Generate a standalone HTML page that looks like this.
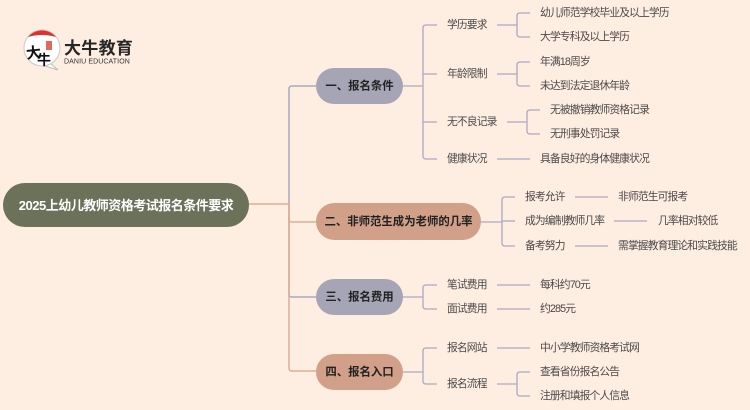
<!DOCTYPE html>
<html><head><meta charset="utf-8">
<style>
html,body{margin:0;padding:0;background:#feede1;}
svg{display:block;}
text{font-family:"Liberation Sans","Noto Sans CJK SC",sans-serif;}
.t{font-size:10.8px;fill:#4a4a4a;letter-spacing:-0.9px;dominant-baseline:central;}
.n{font-size:11.4px;font-weight:bold;fill:#222;dominant-baseline:central;}
</style></head>
<body>
<svg width="750" height="410" viewBox="0 0 750 410" xmlns="http://www.w3.org/2000/svg">
<rect width="750" height="410" fill="#feede1"/>

<!-- logo -->
<g>
  <path d="M50,63 L58,70 L45,66 Z" fill="#fff" stroke="#bbb" stroke-width="1"/>
  <circle cx="42" cy="48" r="18" fill="#fff" stroke="#c8c8c8" stroke-width="1"/>
  <path d="M28,37 A18,18 0 0 1 56,37 Q42,33 28,37 Z" fill="#e0312c"/>
  <rect x="46" y="41" width="6" height="9" fill="#d9442f" opacity="0.8"/>
  <text x="26" y="58" font-family="Liberation Serif,'Noto Serif CJK SC',serif" font-size="15" font-weight="bold" fill="#111" transform="rotate(-6 34 52)">大</text>
  <text x="37" y="65" font-family="Liberation Serif,'Noto Serif CJK SC',serif" font-size="14" font-weight="bold" fill="#111">牛</text>
  <text x="64" y="54" style="font-size:17px;font-weight:bold;fill:#262626;letter-spacing:0.3px">大牛教育</text>
  <text x="64" y="63.5" style="font-size:7px;fill:#333;letter-spacing:0.1px">DANIU EDUCATION</text>
</g>

<!-- trunk -->
<g fill="none" stroke-width="1.5">
  <path d="M289,204 V89 Q289,86 292,86 H316" stroke="#aaa9c2"/>
  <path d="M289,204 V294 Q289,297 292,297 H316" stroke="#aaa9c2"/>
  <path d="M249,204 H289" stroke="#dcae94"/>
  <path d="M289,204 V219 Q289,222 292,222 H316" stroke="#dcae94"/>
  <path d="M289,204 V368 Q289,371 292,371 H316" stroke="#dcae94"/>
</g>

<!-- child connectors -->
<g fill="none" stroke="#aaa9c2" stroke-width="1.3">
  <path d="M403,86 H423"/>
  <path d="M437,25 H426 Q423,25 423,28 V156 Q423,159 426,159 H437"/>
  <path d="M423,74 H437 M423,122 H437"/>
  <path d="M497,25 H517 M530,13 H520 Q517,13 517,16 V34 Q517,37 520,37 H530"/>
  <path d="M497,74 H517 M530,62 H520 Q517,62 517,65 V83 Q517,86 520,86 H530"/>
  <path d="M507,122 H527 M540,110 H530 Q527,110 527,113 V131 Q527,134 530,134 H540"/>
  <path d="M497,159 H530"/>
  <path d="M481,222 H502"/>
  <path d="M515,197 H505 Q502,197 502,200 V243 Q502,246 505,246 H515"/>
  <path d="M502,221 H515"/>
  <path d="M575,197 H608 M614,221 H647 M575,246 H608"/>
  <path d="M403,297 H423"/>
  <path d="M437,285 H426 Q423,285 423,288 V306 Q423,309 426,309 H437"/>
  <path d="M497,285 H530 M497,309 H530"/>
  <path d="M403,372 H423"/>
  <path d="M437,348 H426 Q423,348 423,351 V381 Q423,384 426,384 H437"/>
  <path d="M497,348 H530"/>
  <path d="M497,384 H517 M530,372 H520 Q517,372 517,375 V393 Q517,396 520,396 H530"/>
</g>

<!-- root -->
<rect x="3" y="183" width="246" height="44" rx="22" fill="#6b7259"/>
<text x="126" y="205.5" text-anchor="middle" style="font-size:13px;font-weight:bold;fill:#fff;letter-spacing:-0.5px;dominant-baseline:central">2025上幼儿教师资格考试报名条件要求</text>

<!-- main nodes -->
<rect x="316" y="68" width="87" height="36" rx="18" fill="#a6a5b5"/>
<text class="n" x="359.5" y="86.5" text-anchor="middle">一、报名条件</text>
<rect x="316" y="203" width="165" height="37" rx="18.5" fill="#d2a088"/>
<text class="n" x="398.5" y="222" text-anchor="middle">二、非师范生成为老师的几率</text>
<rect x="316" y="279" width="87" height="36" rx="18" fill="#a6a5b5"/>
<text class="n" x="359.5" y="297.5" text-anchor="middle">三、报名费用</text>
<rect x="316" y="354" width="87" height="36" rx="18" fill="#d2a088"/>
<text class="n" x="359.5" y="372.5" text-anchor="middle">四、报名入口</text>

<!-- level 2 -->
<text class="t" x="447" y="25">学历要求</text>
<text class="t" x="447" y="74">年龄限制</text>
<text class="t" x="447" y="122">无不良记录</text>
<text class="t" x="447" y="159">健康状况</text>
<text class="t" x="525" y="197">报考允许</text>
<text class="t" x="525" y="221">成为编制教师几率</text>
<text class="t" x="525" y="246">备考努力</text>
<text class="t" x="447" y="285">笔试费用</text>
<text class="t" x="447" y="309">面试费用</text>
<text class="t" x="447" y="348">报名网站</text>
<text class="t" x="447" y="384">报名流程</text>

<!-- level 3 -->
<text class="t" x="540" y="13">幼儿师范学校毕业及以上学历</text>
<text class="t" x="540" y="37">大学专科及以上学历</text>
<text class="t" x="540" y="62">年满18周岁</text>
<text class="t" x="540" y="86">未达到法定退休年龄</text>
<text class="t" x="550" y="110">无被撤销教师资格记录</text>
<text class="t" x="550" y="134">无刑事处罚记录</text>
<text class="t" x="540" y="159">具备良好的身体健康状况</text>
<text class="t" x="618" y="197">非师范生可报考</text>
<text class="t" x="658" y="221">几率相对较低</text>
<text class="t" x="618" y="246">需掌握教育理论和实践技能</text>
<text class="t" x="540" y="285">每科约70元</text>
<text class="t" x="540" y="309">约285元</text>
<text class="t" x="540" y="348">中小学教师资格考试网</text>
<text class="t" x="540" y="372">查看省份报名公告</text>
<text class="t" x="540" y="396">注册和填报个人信息</text>
</svg>
</body></html>
